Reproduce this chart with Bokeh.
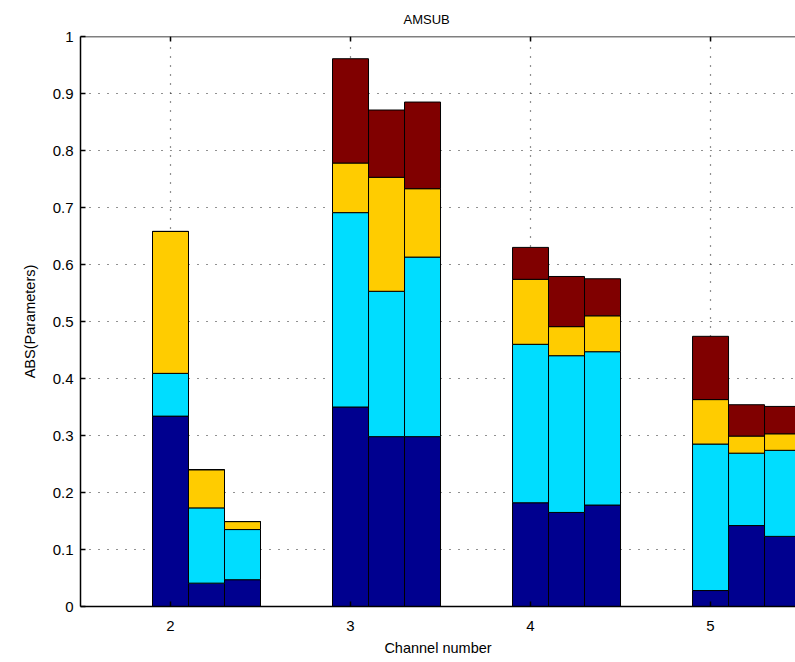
from bokeh.plotting import figure
from bokeh.models import (FixedTicker, NumeralTickFormatter, Range1d, ColumnDataSource, Span)
from bokeh.embed import file_html
from bokeh.resources import INLINE

# ---- data ----
channels = [2, 3, 4, 5]
bar_x = [2.0, 2.2, 2.4, 3.0, 3.2, 3.4, 4.0, 4.2, 4.4, 5.0, 5.2, 5.4]
part1 = [0.334, 0.041, 0.047, 0.350, 0.298, 0.298, 0.182, 0.165, 0.178, 0.028, 0.142, 0.123]
part2 = [0.075, 0.132, 0.088, 0.341, 0.255, 0.315, 0.278, 0.275, 0.269, 0.257, 0.127, 0.151]
part3 = [0.249, 0.067, 0.014, 0.087, 0.200, 0.120, 0.114, 0.051, 0.063, 0.078, 0.030, 0.029]
part4 = [0.000, 0.000, 0.000, 0.183, 0.118, 0.152, 0.056, 0.088, 0.065, 0.111, 0.055, 0.048]
y_ticks = [0, 0.1, 0.2, 0.3, 0.4, 0.5, 0.6, 0.7, 0.8, 0.9, 1.0]

parts = ["p1", "p2", "p3", "p4"]
colors = ["#00008F", "#00DDFF", "#FFCC00", "#800000"]
source = ColumnDataSource(dict(x=bar_x, p1=part1, p2=part2, p3=part3, p4=part4))

FONT = "Liberation Sans"
Y0, Y1 = 0, 1
TICK_LEN = 5 / 570.0  # inner tick length expressed in data units (5 px)

p = figure(width=795, height=660, output_backend="svg", toolbar_location=None,
           x_range=Range1d(1.5, 5.472), y_range=Range1d(Y0, Y1),
           min_border_left=80, min_border_right=0, min_border_top=36, min_border_bottom=54,
           title="AMSUB")
p.outline_line_color = None
p.background_fill_color = "white"
p.border_fill_color = "white"

p.vbar_stack(parts, x="x", width=0.2, source=source, color=colors,
             line_color="black", line_width=1)

# top border of the box and inner ticks at the top
p.add_layout(Span(location=Y1, dimension="width", line_color="black", line_width=1.5))
p.segment(x0=channels, y0=[Y1] * len(channels), x1=channels,
          y1=[Y1 - TICK_LEN] * len(channels), line_color="black", line_width=1.5)

# title
p.title.text_font = FONT
p.title.text_font_size = "13px"
p.title.text_font_style = "normal"
p.title.text_color = "black"
p.title.align = "left"
p.title.offset = 323
p.title.standoff = 19

# axes
for ax in [p.xaxis[0], p.yaxis[0]]:
    ax.major_tick_in = 5
    ax.major_tick_out = 0
    ax.minor_tick_in = 0
    ax.minor_tick_out = 0
    ax.axis_line_color = "black"
    ax.axis_line_width = 1.5
    ax.major_tick_line_color = "black"
    ax.major_tick_line_width = 1.5
    ax.major_label_text_font = FONT
    ax.major_label_text_font_size = "15px"
    ax.major_label_text_color = "black"
    ax.axis_label_text_font = FONT
    ax.axis_label_text_font_size = "14.5px"
    ax.axis_label_text_font_style = "normal"
    ax.axis_label_text_color = "black"

p.xaxis.ticker = FixedTicker(ticks=channels)
p.xaxis.axis_label = "Channel number"
p.xaxis.major_label_standoff = 14
p.xaxis.axis_label_standoff = 6

p.yaxis.ticker = FixedTicker(ticks=y_ticks)
p.yaxis.formatter = NumeralTickFormatter(format="0.[0]")
p.yaxis.axis_label = "ABS(Parameters)"
p.yaxis.major_label_standoff = 7
p.yaxis.axis_label_standoff = 12

# grid
for g in [p.xgrid[0], p.ygrid[0]]:
    g.grid_line_color = "#222222"
    g.grid_line_dash = "1 8"
    g.grid_line_width = 1.2
    g.grid_line_alpha = 1.0
p.xgrid.ticker = FixedTicker(ticks=channels)
p.ygrid.ticker = FixedTicker(ticks=y_ticks)

open("out.html", "w").write(file_html(p, INLINE))
